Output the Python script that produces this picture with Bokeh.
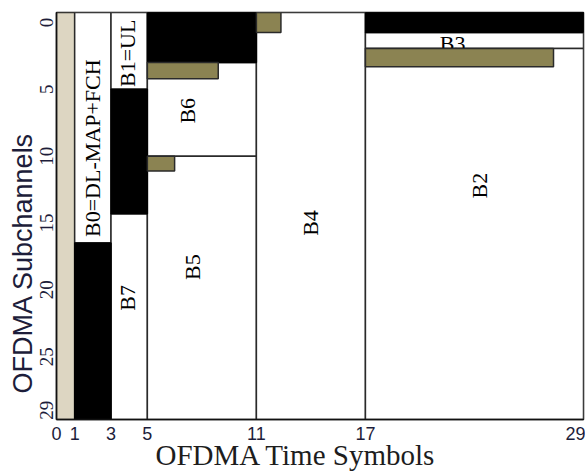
import math
from bokeh.plotting import figure
from bokeh.models import Range1d, FixedTicker, Title
from bokeh.core.properties import value
from bokeh.embed import file_html
from bokeh.resources import INLINE

# ---------------- data ----------------
TIME_TICKS = [0, 1, 3, 5, 11, 17, 29]
SUBCH_TICKS = [0, 5, 10, 15, 20, 25, 29]
T_MIN, T_MAX = 0, 29
S_TOP, S_BOTTOM = -0.75, 29.7

# preamble column
pre_t0, pre_t1 = [0], [1]
pre_s0, pre_s1 = [S_TOP], [S_BOTTOM]

# allocated bursts (white): B0, B1, B7, B6, B5, B4, B3, B2
burst_t0 = [1, 3, 3, 5, 5, 11, 17, 17]
burst_t1 = [3, 5, 5, 11, 11, 17, 29, 29]
burst_s0 = [S_TOP, S_TOP, 14.3, 3, 10, S_TOP, 0.75, 1.94]
burst_s1 = [16.5, 5, S_BOTTOM, 10, S_BOTTOM, S_BOTTOM, 1.94, S_BOTTOM]

# unused regions (black)
unused_t0 = [1, 3, 5, 17]
unused_t1 = [3, 5, 11, 29]
unused_s0 = [16.5, 5, S_TOP, S_TOP]
unused_s1 = [S_BOTTOM, 14.3, 3, 0.75]

# padding (khaki)
pad_t0 = [5, 5, 11, 17]
pad_t1 = [8.9, 6.5, 12.35, 27.35]
pad_s0 = [3, 10, S_TOP, 1.94]
pad_s1 = [4.2, 11.1, 0.75, 3.3]

# burst labels
label_text = ["B0=DL-MAP+FCH", "B1=UL", "B6", "B5", "B7", "B4", "B2"]
label_t = [2, 3.9, 7.2, 7.5, 3.9, 14, 23.3]
label_s = [9.4, 2.3, 6.6, 18.3, 20.6, 15, 12.2]
flat_text = ["B3"]
flat_t = [21.8]
flat_s = [1.6]

X_TITLE = "OFDMA Time Symbols"
Y_TITLE = "OFDMA Subchannels"

# ---------------- figure ----------------
p = figure(width=585, height=471, output_backend="svg", toolbar_location=None,
           x_range=Range1d(T_MIN, T_MAX), y_range=Range1d(S_BOTTOM, S_TOP),
           min_border_left=56, min_border_right=2, min_border_top=12, min_border_bottom=52)
p.grid.visible = False
p.background_fill_color = "white"
p.outline_line_color = "#111111"
p.outline_line_width = 1.5

EDGE = "#2a2a2a"
p.quad(left=pre_t0, right=pre_t1, top=pre_s0, bottom=pre_s1,
       fill_color="#DDD6C2", line_color=EDGE, line_width=1.5)
p.quad(left=burst_t0, right=burst_t1, top=burst_s0, bottom=burst_s1,
       fill_color="white", line_color=EDGE, line_width=1.5)
p.quad(left=unused_t0, right=unused_t1, top=unused_s0, bottom=unused_s1,
       fill_color="black", line_color="black", line_width=1.5)

p.text(x=label_t, y=label_s, text=label_text, angle=math.pi / 2,
       text_font=value("Liberation Serif"), text_font_size="22px",
       text_align="center", text_baseline="middle", text_color="black")
p.text(x=flat_t, y=flat_s, text=flat_text, angle=0,
       text_font=value("Liberation Serif"), text_font_size="22px",
       text_align="center", text_baseline="middle", text_color="black")

p.quad(left=pad_t0, right=pad_t1, top=pad_s0, bottom=pad_s1,
       fill_color="#8B8352", line_color=EDGE, line_width=1.5)

# axes
p.xaxis.ticker = FixedTicker(ticks=TIME_TICKS)
p.yaxis.ticker = FixedTicker(ticks=SUBCH_TICKS)
for ax in (p.xaxis, p.yaxis):
    ax.major_tick_out = 0
    ax.major_tick_in = 0
    ax.minor_tick_out = 0
    ax.minor_tick_in = 0
    ax.axis_line_color = "#111111"
    ax.axis_line_width = 1.5
    ax.major_label_text_color = "#1d1d3a"
p.xaxis.major_label_text_font = "Liberation Sans"
p.xaxis.major_label_text_font_size = "18px"
p.xaxis.major_label_standoff = 7
p.yaxis.major_label_text_font = "Liberation Serif"
p.yaxis.major_label_text_font_size = "19px"
p.yaxis.major_label_orientation = "vertical"
p.yaxis.major_label_standoff = 3

# axis titles
p.add_layout(Title(text=Y_TITLE, align="left", offset=26, standoff=0,
                   vertical_align="bottom",
                   text_font="Liberation Sans", text_font_size="27px",
                   text_font_style="normal", text_color="#1d1d3a"), "left")
p.add_layout(Title(text=X_TITLE, align="left", offset=99, standoff=-8,
                   vertical_align="top",
                   text_font="Liberation Serif", text_font_size="29px",
                   text_font_style="normal", text_color="#1d1d1d"), "below")

open("out.html", "w").write(file_html(p, INLINE))
